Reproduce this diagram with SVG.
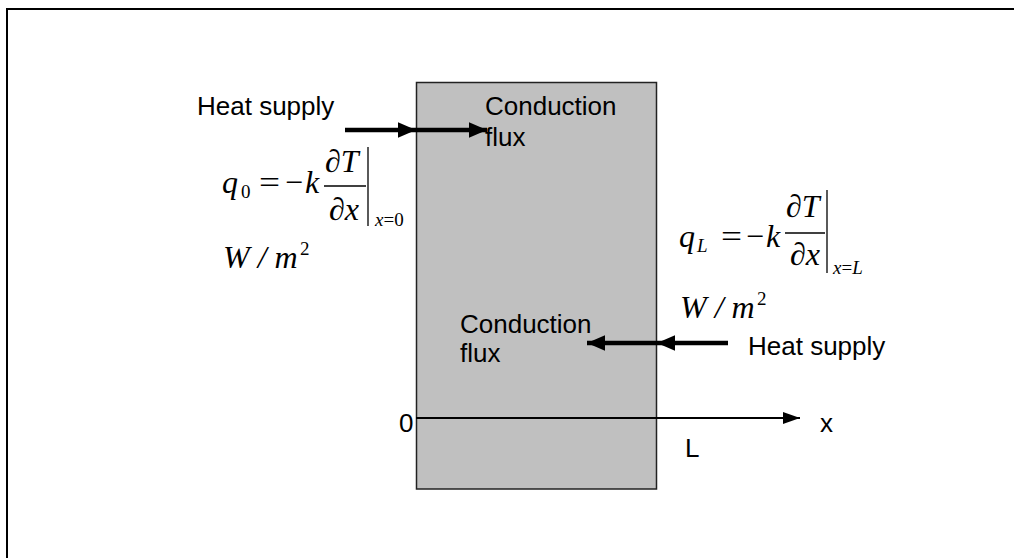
<svg xmlns="http://www.w3.org/2000/svg" width="1014" height="558" viewBox="0 0 1014 558">
<style>
.lab{font-family:"Liberation Sans",Arial,sans-serif;font-size:26px;fill:#000}
.m{font-family:"Liberation Serif","Times New Roman",serif;font-size:32px;font-style:italic;fill:#000}
.mn{font-family:"Liberation Serif","Times New Roman",serif;font-size:32px;fill:#000}
.sub{font-family:"Liberation Serif","Times New Roman",serif;font-size:19px;fill:#000}
.thin{stroke:#000;stroke-width:1.3;fill:none}
.arr{stroke:#000;stroke-width:4.5;fill:none}
</style>
<defs>
<marker id="ah" markerWidth="4.5" markerHeight="4" refX="4" refY="2" orient="auto" markerUnits="strokeWidth">
<path d="M0,0.3 L4,2 L0,3.7 Z" fill="#000"/>
</marker>
<marker id="ax" markerWidth="18" markerHeight="14" refX="17" refY="7" orient="auto" markerUnits="userSpaceOnUse">
<path d="M0,1 L17,7 L0,13 Z" fill="#000"/>
</marker>
</defs>
<rect x="0" y="0" width="1014" height="558" fill="#fff"/>
<g id="frame">
<path d="M7,558 L7,9 L1014,9" stroke="#000" stroke-width="2" fill="none"/>
</g>
<g id="slab">
<rect x="416.5" y="82.5" width="240" height="406.5" fill="#c0c0c0" stroke="#222" stroke-width="1.5"/>
</g>
<g id="connectors">
<line class="arr" x1="345" y1="130" x2="416" y2="130" marker-end="url(#ah)"/>
<line class="arr" x1="416" y1="130" x2="487" y2="130" marker-end="url(#ah)"/>
<line class="arr" x1="728" y1="343" x2="657" y2="343" marker-end="url(#ah)"/>
<line class="arr" x1="657" y1="343" x2="587" y2="343" marker-end="url(#ah)"/>
<line x1="416" y1="418" x2="800" y2="418" stroke="#000" stroke-width="2.2" marker-end="url(#ax)"/>
</g>
<g id="labels">
<text class="lab" x="197" y="115">Heat supply</text>
<text class="lab" x="485" y="115">Conduction</text>
<text class="lab" x="485" y="146">flux</text>
<text class="lab" x="460" y="333">Conduction</text>
<text class="lab" x="460" y="362">flux</text>
<text class="lab" x="748" y="355">Heat supply</text>
<text class="lab" x="399" y="432">0</text>
<text class="lab" x="820" y="432">x</text>
<text class="lab" x="685" y="457">L</text>
</g>
<g id="eq-left">
<text class="m" x="222" y="193">q</text>
<text class="sub" x="241" y="198">0</text>
<text class="mn" x="259" y="193" textLength="21" lengthAdjust="spacingAndGlyphs">=</text>
<text class="mn" x="285" y="193" textLength="18" lengthAdjust="spacingAndGlyphs">−</text>
<text class="m" x="305" y="193">k</text>
<text class="m" x="325" y="172">∂T</text>
<line class="thin" x1="324" y1="186" x2="366" y2="186"/>
<text class="m" x="329" y="220">∂x</text>
<line class="thin" x1="368" y1="147" x2="368" y2="226"/>
<text class="sub" x="375" y="226" font-size="17"><tspan font-style="italic">x</tspan>=0</text>
<text class="m" x="223" y="268">W / m</text>
<text class="sub" x="300" y="255">2</text>
</g>
<g id="eq-right">
<text class="m" x="679" y="247">q</text>
<text class="sub" x="697" y="252" font-style="italic">L</text>
<text class="mn" x="721" y="247" textLength="21" lengthAdjust="spacingAndGlyphs">=</text>
<text class="mn" x="746" y="247" textLength="18" lengthAdjust="spacingAndGlyphs">−</text>
<text class="m" x="766" y="247">k</text>
<text class="m" x="786" y="217">∂T</text>
<line class="thin" x1="785" y1="233" x2="825" y2="233"/>
<text class="m" x="790" y="265">∂x</text>
<line class="thin" x1="827" y1="190" x2="827" y2="273"/>
<text class="sub" x="833" y="274" font-size="17"><tspan font-style="italic">x</tspan>=<tspan font-style="italic">L</tspan></text>
<text class="m" x="680" y="318">W / m</text>
<text class="sub" x="757" y="305">2</text>
</g>
</svg>
